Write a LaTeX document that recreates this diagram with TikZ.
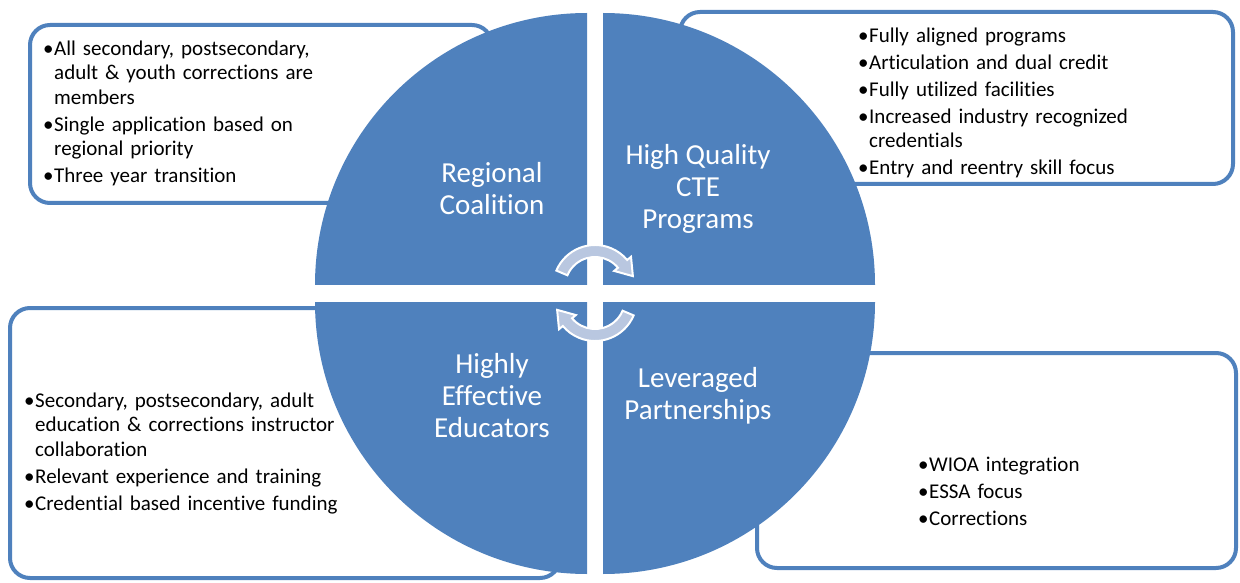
\documentclass[tikz,border=0pt]{standalone}
\usepackage{fontspec}
\setmainfont{Carlito}[Ligatures=NoCommon]
\usetikzlibrary{positioning}
\definecolor{quadblue}{HTML}{4F81BD}
\definecolor{arrowfill}{HTML}{B9C7E0}
\tikzset{
    quad/.style = {fill=quadblue},
    infobox/.style = {draw=quadblue, line width=4pt, fill=white, rounded corners=20pt},
    title/.style = {text=white, align=center, inner sep=0pt,
        font=\fontsize{29}{32}\selectfont},
    bullets/.style = {text width=#1, inner sep=0pt, anchor=north west,
        font=\fontsize{21}{24.5}\selectfont\setlength{\parskip}{2.5pt}\raggedright},
    cyc/.style = {fill=arrowfill, draw=white, line width=2pt},
}
\newcommand{\bul}[1]{\par\noindent\hangindent=11pt\hangafter=1\makebox[11pt][l]{\textbullet}#1}

\begin{document}
\begin{tikzpicture}[x=1pt,y=1pt]
        \useasboundingbox (0,0) rectangle (1240,582);
        % boxes behind the circle
        \draw[infobox] (30,557) rectangle (492,379);
        \draw[infobox] (680,570) rectangle (1233,398);
        \draw[infobox] (10,274) rectangle (560,4);
        \draw[infobox] (757,229) rectangle (1236,14);
        % four quadrants
        \fill[quad] (587,297) -- ++(-272,0) arc[start angle=180, end angle=90, radius=272] -- cycle;
        \fill[quad] (603,297) -- ++(0,272) arc[start angle=90, end angle=0, radius=272] -- cycle;
        \fill[quad] (587,280) -- ++(0,-272) arc[start angle=270, end angle=180, radius=272] -- cycle;
        \fill[quad] (603,280) -- ++(272,0) arc[start angle=0, end angle=-90, radius=272] -- cycle;
        % titles
        \node[title] (coalition) at (492,393) {Regional\\Coalition};
        \node[title] (programs) at (698,393) {High Quality\\CTE\\Programs};
        \node[title] (educators) at (492,186) {Highly\\Effective\\Educators};
        \node[title] (partners) at (698,186) {Leveraged\\Partnerships};
        % cycle arrows
        \begin{scope}[shift={(595,295)}]
            \filldraw[cyc] (157:42) arc[start angle=157, end angle=40, radius=42] -- (40:47) -- (16:39.4)
                -- (40:25) -- (40:30) arc[start angle=40, end angle=157, radius=30] -- cycle;
        \end{scope}
        \begin{scope}[shift={(595,283)}, rotate=180]
            \filldraw[cyc] (157:42) arc[start angle=157, end angle=40, radius=42] -- (40:47) -- (16:39.4)
                -- (40:25) -- (40:30) arc[start angle=40, end angle=157, radius=30] -- cycle;
        \end{scope}
        % bullet texts
        \node[bullets=300] (coalitiontext) at (43,554) {%
            \bul{All secondary, postsecondary,\newline adult \& youth corrections are\newline members}
            \bul{Single application based on\newline regional priority}
            \bul{Three year transition}};
        \node[bullets=370] (programstext) at (858,567) {%
            \bul{Fully aligned programs}
            \bul{Articulation and dual credit}
            \bul{Fully utilized facilities}
            \bul{Increased industry recognized\newline credentials}
            \bul{Entry and reentry skill focus}};
        \node[bullets=350] (educatorstext) at (24,202) {%
            \bul{Secondary, postsecondary, adult\newline education \& corrections instructor\newline collaboration}
            \bul{Relevant experience and training}
            \bul{Credential based incentive funding}};
        \node[bullets=200] (partnerstext) at (918,138) {%
            \bul{WIOA integration}
            \bul{ESSA focus}
            \bul{Corrections}};
\end{tikzpicture}
\end{document}
